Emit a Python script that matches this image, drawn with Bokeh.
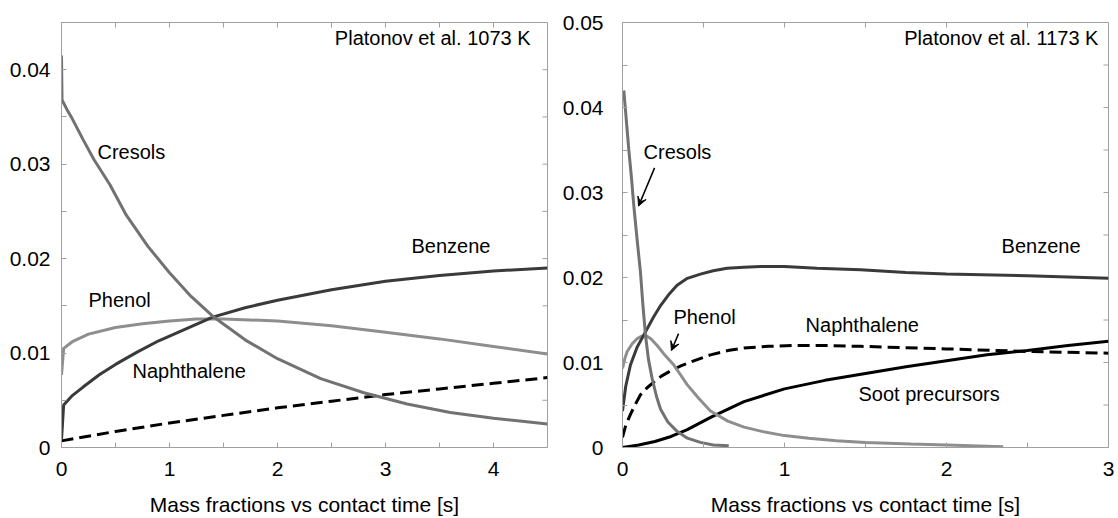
import math
from bokeh.plotting import figure
from bokeh.layouts import row
from bokeh.models import (FixedTicker, Range1d, CustomJSTickFormatter, Arrow, VeeHead)
from bokeh.core.properties import value
from bokeh.embed import file_html
from bokeh.resources import INLINE

FONT = "Liberation Sans"

# ---------------- Left panel: Platonov et al. 1073 K ----------------
L_t_cres = [0, 0.005, 0.05, 0.1, 0.2, 0.3, 0.45, 0.6, 0.8, 1.0, 1.2, 1.4, 1.7, 2.0,
            2.4, 2.8, 3.2, 3.6, 4.0, 4.5]
L_cres = [0.0415, 0.0368, 0.0358, 0.0348, 0.0326, 0.0305, 0.0278, 0.0246, 0.0213, 0.0185,
          0.0160, 0.0139, 0.0114, 0.0094, 0.0073, 0.0058, 0.0046, 0.0037, 0.0031, 0.0025]
L_t_phen = [0, 0.02, 0.1, 0.25, 0.5, 0.75, 1.0, 1.25, 1.5, 2.0, 2.5, 3.0, 3.5, 4.0, 4.5]
L_phen = [0.0077, 0.0105, 0.0112, 0.0120, 0.0127, 0.0131, 0.0134, 0.0136, 0.0136, 0.0134,
          0.0129, 0.0122, 0.0115, 0.0107, 0.0099]
L_t_benz = [0, 0.02, 0.1, 0.2, 0.35, 0.5, 0.7, 0.9, 1.1, 1.4, 1.7, 2.0, 2.5, 3.0, 3.5, 4.0, 4.5]
L_benz = [0.0008, 0.0045, 0.0055, 0.0064, 0.0077, 0.0088, 0.0101, 0.0113, 0.0123, 0.0138,
          0.0148, 0.0156, 0.0167, 0.0176, 0.0182, 0.0187, 0.0190]
L_t_naph = [0, 0.5, 1.0, 1.5, 2.0, 2.5, 3.0, 3.5, 4.0, 4.5]
L_naph = [0.0007, 0.0017, 0.0026, 0.0034, 0.0042, 0.0049, 0.0056, 0.0062, 0.0068, 0.0074]

# ---------------- Right panel: Platonov et al. 1173 K ----------------
R_t_cres = [0.008, 0.02, 0.039, 0.055, 0.07, 0.09, 0.111, 0.125, 0.142, 0.16, 0.183, 0.21,
            0.235, 0.28, 0.337, 0.40, 0.481, 0.56, 0.656]
R_cres = [0.0420, 0.0393, 0.0350, 0.0318, 0.0284, 0.0245, 0.0206, 0.0170, 0.0132, 0.0104,
          0.0081, 0.0060, 0.0045, 0.0030, 0.0019, 0.0011, 0.0006, 0.0003, 0.0002]
R_t_benz = [0.0, 0.02, 0.049, 0.09, 0.142, 0.19, 0.235, 0.29, 0.337, 0.40, 0.481, 0.56,
            0.646, 0.75, 0.852, 1.0, 1.2, 1.47, 1.75, 2.0, 2.5, 3.0]
R_benz = [0.0043, 0.0072, 0.0097, 0.0118, 0.0136, 0.0153, 0.0167, 0.0181, 0.0191, 0.0199,
          0.0204, 0.0208, 0.0211, 0.0212, 0.0213, 0.0213, 0.0211, 0.0209, 0.0206, 0.0204,
          0.0202, 0.0199]
R_t_phen = [0.0, 0.015, 0.029, 0.06, 0.09, 0.12, 0.142, 0.175, 0.214, 0.26, 0.317, 0.36,
            0.399, 0.47, 0.543, 0.65, 0.75, 0.86, 1.0, 1.15, 1.32, 1.5, 1.78, 2.0, 2.35]
R_phen = [0.0093, 0.0105, 0.0113, 0.0122, 0.0128, 0.0131, 0.0132, 0.0128, 0.0120, 0.0109,
          0.0097, 0.0085, 0.0074, 0.0058, 0.0043, 0.0031, 0.0024, 0.0019, 0.0014, 0.0011,
          0.0008, 0.0006, 0.0004, 0.0003, 0.0001]
R_t_naph = [0.0, 0.02, 0.049, 0.08, 0.111, 0.15, 0.193, 0.24, 0.296, 0.36, 0.44, 0.543,
            0.65, 0.749, 0.9, 1.058, 1.25, 1.47, 2.0, 2.5, 3.0]
R_naph = [0.0012, 0.0026, 0.0039, 0.0051, 0.0062, 0.0070, 0.0077, 0.0084, 0.0090, 0.0096,
          0.0102, 0.0109, 0.0114, 0.0117, 0.0119, 0.0120, 0.0120, 0.0119, 0.0116, 0.0113,
          0.0111]
R_t_soot = [0.0, 0.1, 0.2, 0.3, 0.4, 0.55, 0.75, 1.0, 1.25, 1.5, 1.75, 2.0, 2.25, 2.5,
            2.75, 3.0]
R_soot = [0.0, 0.0003, 0.0007, 0.0013, 0.0021, 0.0036, 0.0054, 0.0069, 0.0079, 0.0087,
          0.0095, 0.0102, 0.0109, 0.0114, 0.0120, 0.0125]

X_TITLE = "Mass fractions vs contact time [s]"

C_CRES = "#727272"
C_PHEN = "#8e8e8e"
C_BENZ = "#3a3a3a"
C_BLACK = "#000000"
FRAME = "#a0a0a0"


def make_fig(xmax, ymax, xticks, xminor, yticks, yminor, left_border, right_border, ystandoff):
    p = figure(width=559, height=518, output_backend="svg", toolbar_location=None,
               x_range=Range1d(0, xmax), y_range=Range1d(0, ymax),
               min_border_left=left_border, min_border_right=right_border,
               min_border_top=22, min_border_bottom=68)
    p.xgrid.visible = False
    p.ygrid.visible = False
    p.outline_line_color = FRAME
    p.outline_line_width = 1
    p.background_fill_color = "white"
    p.border_fill_color = "white"

    for ax in p.xaxis:
        ax.ticker = FixedTicker(ticks=xticks, minor_ticks=xminor)
        ax.axis_label = X_TITLE
        ax.axis_label_text_font = FONT
        ax.axis_label_text_font_size = "21px"
        ax.axis_label_text_font_style = "normal"
        ax.axis_label_text_color = "black"
        ax.axis_label_standoff = 14
        ax.major_label_text_font = FONT
        ax.major_label_text_font_size = "21px"
        ax.major_label_standoff = 14
    for ax in p.yaxis:
        ax.ticker = FixedTicker(ticks=yticks, minor_ticks=yminor)
        ax.formatter = CustomJSTickFormatter(code="return tick == 0 ? '0' : tick.toFixed(2);")
        ax.major_label_text_font = FONT
        ax.major_label_text_font_size = "21px"
        ax.major_label_standoff = ystandoff
    for ax in list(p.xaxis) + list(p.yaxis):
        ax.axis_line_color = FRAME
        ax.major_tick_line_color = FRAME
        ax.minor_tick_line_color = FRAME
        ax.major_tick_in = 5
        ax.major_tick_out = 0
        ax.minor_tick_in = 5
        ax.minor_tick_out = 0
        ax.major_label_text_color = "black"

    # mirrored inward tick marks on the top and right frame edges
    allx = sorted(xticks + xminor)
    ally = sorted(yticks + yminor)
    p.scatter(x=allx, y=[ymax] * len(allx), marker="dash", angle=math.pi / 2, size=10,
              line_color=FRAME, line_width=1)
    p.scatter(x=[xmax] * len(ally), y=ally, marker="dash", size=10,
              line_color=FRAME, line_width=1)
    return p


def label(p, x, y, txt, align="left"):
    p.text(x=[x], y=[y], text=[txt], text_font=value(FONT), text_font_size="20px",
           text_color="black", text_align=align, text_baseline="middle")


# ---- left figure
p1 = make_fig(4.5, 0.045, [0, 1, 2, 3, 4], [0.5, 1.5, 2.5, 3.5],
              [0, 0.01, 0.02, 0.03, 0.04], [0.005, 0.015, 0.025, 0.035],
              61, 12, 11)
p1.line(L_t_naph, L_naph, line_color=C_BLACK, line_width=3, line_dash="12 6")
p1.line(L_t_phen, L_phen, line_color=C_PHEN, line_width=3)
p1.line(L_t_benz, L_benz, line_color=C_BENZ, line_width=3)
p1.line(L_t_cres, L_cres, line_color=C_CRES, line_width=3)
label(p1, 4.343, 0.0434, "Platonov et al. 1073 K", "right")
label(p1, 0.333, 0.0313, "Cresols")
label(p1, 3.24, 0.0213, "Benzene")
label(p1, 0.25, 0.0156, "Phenol")
label(p1, 0.657, 0.0081, "Naphthalene")

# ---- right figure
p2 = make_fig(3.0, 0.05, [0, 1, 2, 3], [0.5, 1.5, 2.5],
              [0, 0.01, 0.02, 0.03, 0.04, 0.05], [0.005, 0.015, 0.025, 0.035, 0.045],
              63, 10, 19)
p2.line(R_t_naph, R_naph, line_color=C_BLACK, line_width=3, line_dash="12 6")
p2.line(R_t_soot, R_soot, line_color=C_BLACK, line_width=3)
p2.line(R_t_phen, R_phen, line_color=C_PHEN, line_width=3)
p2.line(R_t_benz, R_benz, line_color=C_BENZ, line_width=3)
p2.line(R_t_cres, R_cres, line_color=C_CRES, line_width=3)
label(p2, 2.938, 0.0482, "Platonov et al. 1173 K", "right")
label(p2, 0.13, 0.0348, "Cresols")
label(p2, 0.315, 0.0154, "Phenol")
label(p2, 2.34, 0.0237, "Benzene")
label(p2, 1.13, 0.0144, "Naphthalene")
label(p2, 1.457, 0.0063, "Soot precursors")
p2.add_layout(Arrow(end=VeeHead(size=9, fill_color="black", line_color="black"),
                    x_start=0.198, y_start=0.0329, x_end=0.099, y_end=0.0284,
                    line_color="black", line_width=1.5))
p2.add_layout(Arrow(end=VeeHead(size=9, fill_color="black", line_color="black"),
                    x_start=0.346, y_start=0.0134, x_end=0.302, y_end=0.0114,
                    line_color="black", line_width=1.5))

layout = row(p1, p2, spacing=0)
open("out.html", "w").write(file_html(layout, INLINE))
